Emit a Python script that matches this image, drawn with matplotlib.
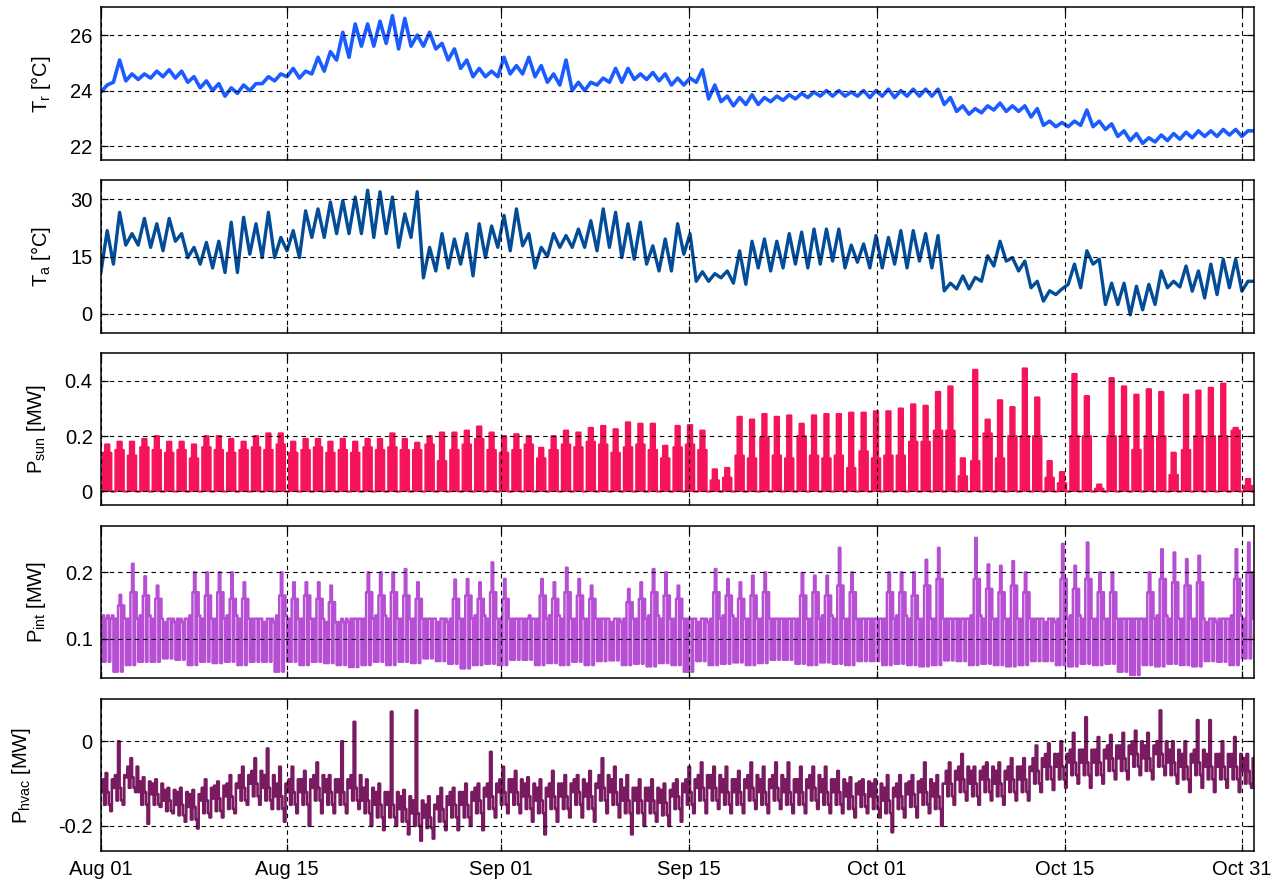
import numpy as np
import matplotlib
matplotlib.use('Agg')
import matplotlib.pyplot as plt

plt.rcParams['font.family'] = ['Liberation Sans', 'DejaVu Sans']
plt.rcParams['mathtext.fontset'] = 'custom'
plt.rcParams['mathtext.rm'] = 'Liberation Sans'
plt.rcParams['mathtext.it'] = 'Liberation Sans:italic'

# one entry per day slot along the axis (Aug 01 -> Nov 01)
tick_pos = [0, 15.02, 32.26, 47.4, 62.56, 77.74, 91.99]
tick_lab = ['Aug 01', 'Aug 15', 'Sep 01', 'Sep 15', 'Oct 01', 'Oct 15', 'Oct 31']

# room temperature, daily low / high [C]
tr_lo = [23.95, 24.3, 24.35, 24.4, 24.45, 24.5, 24.45, 24.3, 24.1, 24.0,
         23.8, 23.9, 24.0, 24.25, 24.35, 24.5, 24.45, 24.6, 24.7, 25.1,
         25.2, 25.6, 25.6, 25.7, 25.5, 25.6, 25.6, 25.5, 25.1, 24.8,
         24.5, 24.5, 24.5, 24.6, 24.6, 24.5, 24.3, 24.2, 24.0, 24.0,
         24.2, 24.3, 24.3, 24.4, 24.4, 24.35, 24.2, 24.2, 24.3, 23.7,
         23.6, 23.45, 23.5, 23.5, 23.6, 23.65, 23.7, 23.75, 23.8, 23.8,
         23.8, 23.8, 23.75, 23.8, 23.75, 23.8, 23.8, 23.8, 23.5, 23.25,
         23.15, 23.2, 23.3, 23.25, 23.25, 23.05, 22.75, 22.7, 22.7, 22.75,
         22.7, 22.6, 22.35, 22.2, 22.1, 22.15, 22.2, 22.25, 22.3, 22.35,
         22.35, 22.4, 22.35]
tr_hi = [24.2, 25.1, 24.6, 24.6, 24.7, 24.75, 24.7, 24.5, 24.35, 24.25,
         24.1, 24.2, 24.25, 24.5, 24.6, 24.8, 24.7, 25.2, 25.4, 26.1,
         26.4, 26.4, 26.5, 26.7, 26.6, 26.0, 26.1, 25.7, 25.5, 25.1,
         24.8, 24.7, 25.2, 24.9, 25.2, 24.9, 24.6, 25.1, 24.3, 24.3,
         24.45, 24.8, 24.8, 24.6, 24.65, 24.6, 24.45, 24.45, 24.75, 24.2,
         23.8, 23.75, 23.85, 23.75, 23.8, 23.85, 23.9, 23.95, 24.0, 24.0,
         23.95, 24.0, 24.0, 24.05, 24.0, 24.05, 24.05, 24.05, 23.75, 23.45,
         23.35, 23.45, 23.55, 23.45, 23.45, 23.35, 22.9, 22.85, 22.9, 23.3,
         22.9, 22.8, 22.55, 22.45, 22.3, 22.4, 22.45, 22.5, 22.55, 22.55,
         22.6, 22.6, 22.55]

# ambient temperature, daily low / high [C]
ta_lo = [11, 13, 18, 18, 17.4, 16.5, 19, 14.7, 13, 12,
         10.8, 10.8, 15.6, 14.7, 14.7, 16.5, 14.7, 20, 20, 21,
         21, 21, 20, 21, 17.4, 20, 9.4, 11.2, 12, 13,
         9.9, 14.7, 17.4, 16.5, 17.8, 12, 15, 17.4, 17.4, 17.4,
         16.5, 17.4, 14.7, 14.3, 13, 11.2, 11.2, 15.6, 8.5, 8.5,
         9.4, 8, 7.7, 12, 11.2, 12, 13, 12, 13, 13.8,
         12, 13.5, 12, 12, 13, 12, 13.8, 12, 6, 6.5,
         6.5, 8.5, 12.5, 13.8, 11.2, 6.8, 3.3, 5, 7.7, 6.8,
         13, 2.4, 2.4, -0.3, 1, 2.4, 6.8, 7, 5.9, 4.1,
         5, 6.8, 5.9]
ta_hi = [21.8, 26.6, 21, 25, 23.6, 25, 21, 17.4, 18.7, 19,
         24, 25.3, 23.6, 26.6, 20, 21.8, 27, 27.5, 29.3, 29.7,
         30.6, 32.4, 32, 30.6, 26.2, 32, 17.4, 21, 19.6, 21,
         23.6, 23, 25.8, 27.5, 21, 17.4, 21, 20.5, 22.2, 24.4,
         27.5, 26.6, 23.6, 24, 17.8, 19.6, 23.6, 21, 11, 10.5,
         11.2, 16.5, 19, 19.6, 19, 21, 21.4, 22.2, 22.2, 22.2,
         18, 18.3, 20.5, 20, 21.8, 21.8, 21, 20.5, 8, 9.9,
         9.5, 15.2, 19, 14.7, 13.8, 8.5, 6, 6.5, 13, 16.5,
         14.3, 8, 8, 7.2, 7.7, 11.2, 8.5, 12.5, 11.2, 13,
         14.3, 14.3, 8.5]

# solar gain: daily peak and shoulder [MW], zero at night
sun_peak = [0.17, 0.18, 0.18, 0.19, 0.2, 0.18, 0.18, 0.17, 0.2, 0.2,
            0.19, 0.18, 0.2, 0.21, 0.21, 0.18, 0.19, 0.19, 0.18, 0.19,
            0.18, 0.19, 0.19, 0.21, 0.19, 0.176, 0.2, 0.213, 0.213, 0.22,
            0.235, 0.213, 0.2, 0.207, 0.2, 0.158, 0.2, 0.22, 0.213, 0.23,
            0.237, 0.225, 0.25, 0.245, 0.245, 0.165, 0.237, 0.24, 0.22, 0.08,
            0.085, 0.27, 0.26, 0.28, 0.27, 0.275, 0.245, 0.275, 0.28, 0.28,
            0.285, 0.285, 0.29, 0.29, 0.3, 0.315, 0.31, 0.36, 0.38, 0.12,
            0.44, 0.26, 0.33, 0.305, 0.445, 0.34, 0.11, 0.07, 0.425, 0.345,
            0.025, 0.41, 0.38, 0.35, 0.37, 0.36, 0.14, 0.35, 0.365, 0.375,
            0.39, 0.23, 0.045]
sun_side = [0.14, 0.15, 0.13, 0.16, 0.15, 0.14, 0.15, 0.12, 0.16, 0.15,
            0.14, 0.15, 0.16, 0.15, 0.17, 0.14, 0.15, 0.16, 0.14, 0.15,
            0.14, 0.16, 0.15, 0.16, 0.15, 0.15, 0.17, 0.11, 0.15, 0.17,
            0.19, 0.15, 0.14, 0.15, 0.17, 0.12, 0.15, 0.17, 0.16, 0.18,
            0.17, 0.14, 0.16, 0.17, 0.15, 0.12, 0.16, 0.17, 0.15, 0.04,
            0.05, 0.13, 0.12, 0.195, 0.13, 0.12, 0.2, 0.13, 0.12, 0.13,
            0.085, 0.145, 0.12, 0.13, 0.13, 0.18, 0.18, 0.22, 0.22, 0.055,
            0.11, 0.21, 0.12, 0.2, 0.2, 0.2, 0.05, 0.03, 0.2, 0.2,
            0.01, 0.2, 0.2, 0.15, 0.2, 0.2, 0.06, 0.15, 0.2, 0.2,
            0.2, 0.22, 0.02]
sun_night = [0.0] * 93

# internal gains: band low / high, daytime level and peak per day [MW]
int_lo = [0.065, 0.05, 0.06, 0.065, 0.065, 0.07, 0.068, 0.06, 0.065, 0.063,
          0.065, 0.06, 0.065, 0.065, 0.05, 0.065, 0.06, 0.065, 0.063, 0.06,
          0.057, 0.06, 0.065, 0.06, 0.065, 0.063, 0.07, 0.066, 0.062, 0.055,
          0.06, 0.062, 0.06, 0.068, 0.068, 0.06, 0.063, 0.06, 0.065, 0.06,
          0.066, 0.067, 0.06, 0.062, 0.058, 0.063, 0.06, 0.05, 0.066, 0.06,
          0.062, 0.064, 0.06, 0.063, 0.068, 0.068, 0.062, 0.06, 0.064, 0.062,
          0.06, 0.066, 0.066, 0.06, 0.062, 0.06, 0.058, 0.06, 0.067, 0.066,
          0.06, 0.062, 0.06, 0.058, 0.06, 0.066, 0.066, 0.06, 0.058, 0.062,
          0.06, 0.062, 0.05, 0.045, 0.06, 0.058, 0.062, 0.06, 0.058, 0.066,
          0.065, 0.06, 0.07]
int_hi = [0.135, 0.13, 0.13, 0.135, 0.13, 0.125, 0.13, 0.135, 0.13, 0.13,
          0.135, 0.13, 0.13, 0.125, 0.135, 0.13, 0.13, 0.13, 0.125, 0.125,
          0.13, 0.13, 0.135, 0.13, 0.13, 0.13, 0.13, 0.125, 0.13, 0.13,
          0.135, 0.13, 0.13, 0.13, 0.13, 0.13, 0.135, 0.13, 0.13, 0.13,
          0.13, 0.125, 0.13, 0.13, 0.135, 0.13, 0.13, 0.13, 0.125, 0.13,
          0.135, 0.13, 0.13, 0.13, 0.13, 0.13, 0.13, 0.13, 0.135, 0.13,
          0.13, 0.13, 0.13, 0.13, 0.135, 0.13, 0.13, 0.13, 0.13, 0.13,
          0.135, 0.13, 0.13, 0.13, 0.13, 0.13, 0.125, 0.13, 0.135, 0.13,
          0.13, 0.13, 0.13, 0.13, 0.13, 0.135, 0.13, 0.13, 0.13, 0.125,
          0.13, 0.135, 0.13]
int_day = [0.13, 0.15, 0.17, 0.165, 0.16, 0.13, 0.13,
           0.17, 0.165, 0.17, 0.16, 0.16, 0.13, 0.13,
           0.165, 0.16, 0.165, 0.16, 0.155, 0.13, 0.13,
           0.17, 0.165, 0.17, 0.165, 0.16, 0.13, 0.13,
           0.16, 0.165, 0.16, 0.17, 0.16, 0.13, 0.13,
           0.165, 0.16, 0.17, 0.165, 0.16, 0.13, 0.13,
           0.155, 0.16, 0.17, 0.165, 0.16, 0.13, 0.13,
           0.17, 0.165, 0.16, 0.165, 0.17, 0.13, 0.13,
           0.165, 0.17, 0.165, 0.18, 0.17, 0.13, 0.13,
           0.17, 0.17, 0.165, 0.18, 0.19, 0.13, 0.13,
           0.19, 0.175, 0.17, 0.18, 0.17, 0.13, 0.13,
           0.19, 0.175, 0.19, 0.17, 0.17, 0.13, 0.13,
           0.17, 0.19, 0.185, 0.18, 0.185, 0.13, 0.13,
           0.19, 0.2]
int_peak = [0.135, 0.166, 0.213, 0.194, 0.18, 0.13, 0.125,
            0.2, 0.2, 0.2, 0.2, 0.185, 0.13, 0.13,
            0.2, 0.185, 0.185, 0.185, 0.18, 0.125, 0.13,
            0.2, 0.2, 0.2, 0.205, 0.185, 0.13, 0.13,
            0.189, 0.19, 0.185, 0.215, 0.19, 0.13, 0.135,
            0.19, 0.185, 0.207, 0.19, 0.18, 0.13, 0.13,
            0.175, 0.185, 0.205, 0.2, 0.18, 0.13, 0.13,
            0.205, 0.19, 0.185, 0.195, 0.2, 0.13, 0.13,
            0.199, 0.195, 0.195, 0.237, 0.2, 0.13, 0.13,
            0.2, 0.2, 0.2, 0.219, 0.237, 0.13, 0.13,
            0.252, 0.212, 0.21, 0.217, 0.2, 0.13, 0.13,
            0.243, 0.21, 0.245, 0.2, 0.2, 0.13, 0.13,
            0.2, 0.235, 0.23, 0.22, 0.225, 0.13, 0.13,
            0.235, 0.245]

# HVAC power per day: min, lower band, centre, upper band, max [MW]
hvac_lo = [-0.165, -0.15, -0.12, -0.195, -0.155, -0.17, -0.19, -0.206, -0.18, -0.18,
           -0.17, -0.15, -0.15, -0.16, -0.19, -0.17, -0.2, -0.17, -0.17, -0.17,
           -0.16, -0.2, -0.21, -0.2, -0.22, -0.235, -0.23, -0.21, -0.21, -0.2,
           -0.21, -0.18, -0.17, -0.17, -0.19, -0.22, -0.19, -0.18, -0.18, -0.19,
           -0.17, -0.18, -0.22, -0.2, -0.19, -0.2, -0.19, -0.17, -0.17, -0.16,
           -0.17, -0.17, -0.16, -0.17, -0.16, -0.17, -0.17, -0.16, -0.17, -0.17,
           -0.18, -0.17, -0.18, -0.215, -0.18, -0.18, -0.17, -0.2, -0.15, -0.14,
           -0.15, -0.14, -0.15, -0.14, -0.14, -0.12, -0.115, -0.11, -0.1, -0.11,
           -0.1, -0.09, -0.09, -0.08, -0.09, -0.08, -0.1, -0.12, -0.11, -0.12,
           -0.11, -0.12, -0.11]
hvac_dn = [-0.15, -0.14, -0.11, -0.15, -0.15, -0.165, -0.175, -0.185, -0.17, -0.165,
           -0.16, -0.14, -0.13, -0.14, -0.16, -0.15, -0.15, -0.14, -0.15, -0.15,
           -0.14, -0.17, -0.18, -0.18, -0.19, -0.2, -0.205, -0.19, -0.18, -0.18,
           -0.17, -0.16, -0.15, -0.15, -0.16, -0.17, -0.16, -0.16, -0.15, -0.16,
           -0.14, -0.15, -0.17, -0.17, -0.17, -0.175, -0.16, -0.15, -0.14, -0.14,
           -0.15, -0.15, -0.14, -0.15, -0.14, -0.15, -0.15, -0.14, -0.15, -0.15,
           -0.16, -0.155, -0.16, -0.17, -0.16, -0.155, -0.15, -0.16, -0.13, -0.12,
           -0.13, -0.12, -0.13, -0.12, -0.12, -0.1, -0.09, -0.09, -0.08, -0.08,
           -0.08, -0.07, -0.07, -0.06, -0.07, -0.06, -0.08, -0.09, -0.08, -0.09,
           -0.09, -0.09, -0.1]
hvac_mid = [-0.12, -0.11, -0.085, -0.12, -0.125, -0.14, -0.15, -0.155, -0.14, -0.135,
            -0.13, -0.11, -0.1, -0.11, -0.13, -0.12, -0.12, -0.11, -0.12, -0.12,
            -0.11, -0.14, -0.15, -0.15, -0.16, -0.17, -0.18, -0.16, -0.15, -0.15,
            -0.14, -0.13, -0.12, -0.12, -0.13, -0.14, -0.13, -0.13, -0.12, -0.13,
            -0.11, -0.12, -0.14, -0.14, -0.14, -0.145, -0.13, -0.12, -0.11, -0.11,
            -0.12, -0.12, -0.11, -0.12, -0.11, -0.12, -0.12, -0.11, -0.12, -0.12,
            -0.13, -0.125, -0.13, -0.14, -0.13, -0.125, -0.12, -0.13, -0.1, -0.09,
            -0.1, -0.09, -0.1, -0.09, -0.09, -0.07, -0.06, -0.06, -0.05, -0.05,
            -0.05, -0.04, -0.04, -0.03, -0.04, -0.03, -0.05, -0.06, -0.05, -0.06,
            -0.06, -0.06, -0.07]
hvac_up = [-0.09, -0.08, -0.06, -0.095, -0.1, -0.115, -0.12, -0.125, -0.11, -0.105,
           -0.1, -0.08, -0.07, -0.08, -0.1, -0.09, -0.09, -0.08, -0.09, -0.09,
           -0.08, -0.11, -0.12, -0.12, -0.13, -0.14, -0.15, -0.13, -0.12, -0.12,
           -0.11, -0.1, -0.09, -0.09, -0.1, -0.11, -0.1, -0.1, -0.09, -0.1,
           -0.08, -0.09, -0.11, -0.11, -0.11, -0.115, -0.1, -0.09, -0.08, -0.08,
           -0.09, -0.09, -0.08, -0.09, -0.08, -0.09, -0.09, -0.08, -0.09, -0.09,
           -0.1, -0.095, -0.1, -0.11, -0.1, -0.095, -0.09, -0.1, -0.07, -0.06,
           -0.07, -0.06, -0.07, -0.06, -0.06, -0.04, -0.03, -0.03, -0.02, -0.02,
           -0.02, -0.01, -0.01, 0.0, -0.01, 0.0, -0.02, -0.03, -0.02, -0.03,
           -0.03, -0.03, -0.04]
hvac_hi = [-0.075, 0.0, -0.04, -0.085, -0.09, -0.11, -0.11, -0.115, -0.09, -0.095,
           -0.08, -0.06, -0.04, -0.017, -0.06, -0.06, -0.07, -0.05, -0.08, 0.0,
           0.046, -0.09, -0.1, 0.07, -0.115, 0.073, -0.13, -0.11, -0.11, -0.1,
           -0.1, -0.025, -0.06, -0.07, -0.085, -0.09, -0.07, -0.08, -0.08, -0.07,
           -0.04, -0.06, -0.08, -0.09, -0.09, -0.1, -0.09, -0.06, -0.05, -0.06,
           -0.06, -0.07, -0.05, -0.06, -0.05, -0.05, -0.06, -0.06, -0.06, -0.07,
           -0.085, -0.09, -0.09, -0.08, -0.08, -0.08, -0.05, -0.08, -0.05, -0.03,
           -0.06, -0.05, -0.05, -0.04, -0.04, -0.01, -0.005, 0.0, 0.02, 0.057,
           0.01, 0.015, 0.02, 0.025, 0.02, 0.073, 0.0, 0.0, 0.05, 0.05,
           0.0, 0.01, -0.03]


def daily(*parts):
    # interleave the per-day values into one series, len(parts) samples a day
    y = np.column_stack(parts).ravel()
    x = np.arange(len(y) + 1) / len(parts)
    return x, np.append(y, y[-1])


W, H = 1282, 885
fig = plt.figure(figsize=(W / 100, H / 100), dpi=100)

panels = [
    dict(px=(7.3, 160), series=daily(tr_lo, tr_hi), color='#1a5cff', lw=2.6,
         steps=False, fill=False,
         ylim=(21.5, 27), yt=[22, 24, 26], ytl=['22', '24', '26'],
         label='T$_\\mathregular{r}$ [°C]', lx=-0.042),
    dict(px=(180.3, 332.7), series=daily(ta_lo, ta_hi), color='#024c98', lw=2.4,
         steps=False, fill=False,
         ylim=(-5, 35), yt=[0, 15, 30], ytl=['0', '15', '30'],
         label='T$_\\mathregular{a}$ [°C]', lx=-0.042),
    dict(px=(353.3, 505.3),
         series=daily(sun_night, sun_side, sun_peak, sun_peak, sun_side, sun_night),
         color='#f5145a', lw=1.6, steps=True, fill=True,
         ylim=(-0.05, 0.5), yt=[0, 0.2, 0.4], ytl=['0', '0.2', '0.4'],
         label='P$_\\mathregular{sun}$ [MW]', lx=-0.046),
    dict(px=(526, 678.3),
         series=daily(int_lo, int_hi, int_lo, int_day, int_peak, int_lo, int_day, int_hi),
         color='#b64fd3', lw=1.8, steps=True, fill=False,
         ylim=(0.04, 0.27), yt=[0.1, 0.2], ytl=['0.1', '0.2'],
         label='P$_\\mathregular{int}$ [MW]', lx=-0.046),
    dict(px=(699, 851.3),
         series=daily(hvac_mid, hvac_up, hvac_dn, hvac_hi, hvac_mid, hvac_dn, hvac_lo, hvac_up),
         color='#7a1a61', lw=1.9, steps=True, fill=False,
         ylim=(-0.26, 0.1), yt=[-0.2, 0], ytl=['-0.2', '0'],
         label='P$_\\mathregular{hvac}$ [MW]', lx=-0.059),
]

left, right = 101, 1254
for i, p in enumerate(panels):
    top, bot = p['px']
    ax = fig.add_axes([left / W, 1 - bot / H, (right - left) / W, (bot - top) / H])
    x, y = p['series']
    ds = 'steps-post' if p['steps'] else 'default'
    ax.plot(x, y, drawstyle=ds, color=p['color'], lw=p['lw'])
    if p['fill']:
        ax.fill_between(x, 0, y, step='post', color=p['color'], lw=0)
    ax.set_xlim(0, 92.98)
    ax.set_ylim(*p['ylim'])
    ax.set_yticks(p['yt'])
    ax.set_yticklabels(p['ytl'])
    ax.set_xticks(tick_pos)
    if i == len(panels) - 1:
        ax.set_xticklabels(tick_lab)
    else:
        ax.set_xticklabels([])
    ax.set_axisbelow(False)
    ax.grid(True, color='black', ls=(0, (4, 3.5)), lw=0.8)
    ax.tick_params(direction='in', length=5, width=0.9, top=True, right=True,
                   labelsize=14.5, pad=6, colors='black')
    for s in ax.spines.values():
        s.set_linewidth(1.1)
    ax.set_ylabel(p['label'], fontsize=14.5)
    ax.yaxis.set_label_coords(p['lx'], 0.5)

fig.savefig('out.png', dpi=100)
